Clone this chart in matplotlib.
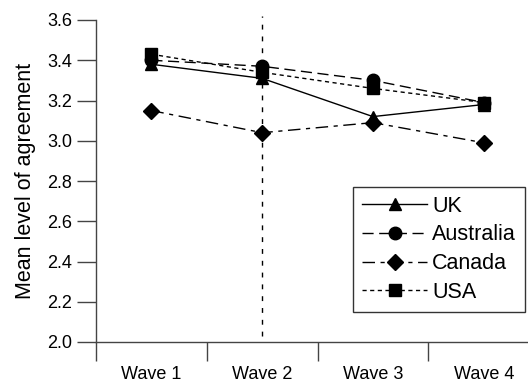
import matplotlib
matplotlib.use("Agg")
import matplotlib.pyplot as plt

waves = ["Wave 1", "Wave 2", "Wave 3", "Wave 4"]
uk = [3.38, 3.31, 3.12, 3.18]
australia = [3.40, 3.37, 3.30, 3.19]
canada = [3.15, 3.04, 3.09, 2.99]
usa = [3.43, 3.34, 3.26, 3.19]
yticks = [2.0, 2.2, 2.4, 2.6, 2.8, 3.0, 3.2, 3.4, 3.6]

plt.rcParams['font.family'] = ['Liberation Sans', 'DejaVu Sans']

fig = plt.figure(figsize=(5.28, 3.82), dpi=100)
ax = fig.add_axes([96/528, 40/382, 1 - 96/528, (342-20)/382])

x = list(range(1, len(waves) + 1))
k = dict(color='black', lw=1.0, markersize=9)
ax.plot(x, uk, linestyle='-', marker='^', label='UK', **k)
ax.plot(x, australia, linestyle=(0, (8, 4)), marker='o', label='Australia', **k)
ax.plot(x, canada, linestyle=(0, (9, 4, 3, 4)), marker='D', label='Canada', color='black', lw=1.0, markersize=8)
ax.plot(x, usa, linestyle=(0, (3, 2.5)), marker='s', label='USA', **k)

ax.plot([2, 2], [2.03, 3.62], color='black', lw=1.0, linestyle=(0, (3.5, 5)), clip_on=False, zorder=1)

ax.set_xlim(0.5, 4.4)
ax.set_ylim(2.0, 3.6)
ax.set_yticks(yticks)
ax.set_yticklabels([f"{v:.1f}" for v in yticks])
ax.set_xticks([0.5, 1.5, 2.5, 3.5])
ax.set_xticklabels([])
ax.set_xticks(x, minor=True)
ax.set_xticklabels(waves, minor=True)
ax.tick_params(axis='x', which='minor', length=0, pad=17, labelsize=13)
ax.tick_params(axis='x', which='major', length=14, width=1, color='#444444')
ax.tick_params(axis='y', length=14, width=1, color='#444444', labelsize=13, pad=3)
for s in ['top', 'right']:
    ax.spines[s].set_visible(False)
for s in ['left', 'bottom']:
    ax.spines[s].set_color('#444444')
    ax.spines[s].set_linewidth(1)

ax.set_ylabel("Mean level of agreement", fontsize=15.5, labelpad=8)

leg = ax.legend(loc='lower right', bbox_to_anchor=(525/528, (382-312)/382), bbox_transform=fig.transFigure,
                fontsize=15.5, frameon=True, fancybox=False, edgecolor='black', handlelength=3.0,
                borderpad=0.42, labelspacing=0.36, handletextpad=0.25, borderaxespad=0)
leg.get_frame().set_linewidth(1.0)

fig.savefig("out.png", dpi=100)
